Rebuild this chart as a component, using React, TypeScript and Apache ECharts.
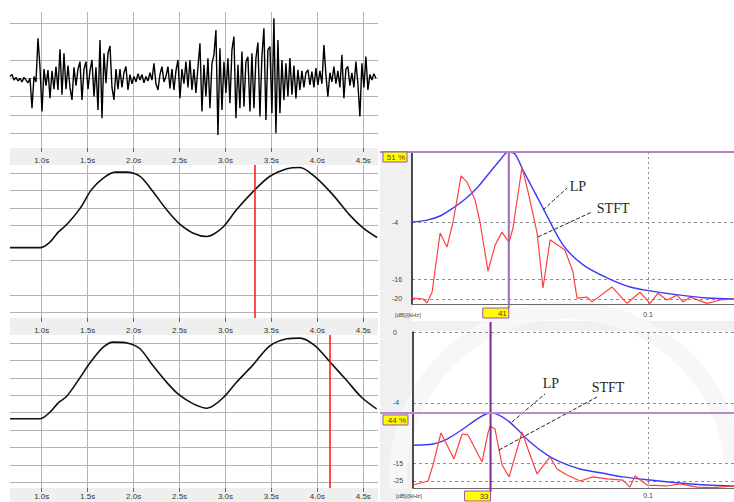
import React, { useEffect, useRef } from 'react';
import * as echarts from 'echarts';

// ---------- time axis (left panels, seconds) ----------
const tMin = 0.655;
const tMax = 4.66;
const timeTicks = [1.0, 1.5, 2.0, 2.5, 3.0, 3.5, 4.0, 4.5];

// ---------- panel 1: raw signal ----------
const noiseT0 = 0.655;
const noiseDt = 0.02176;
const noiseValues = [
  0.1, 0.2, -0.1, 0.05, -0.15, 0.0, -0.2, 0.05, -0.1, -0.25,
  0.0, -1.64, 0.1, -0.2, 2.19, 0.6, -1.82, 0.5, -0.4, 0.45,
  -1.09, 0.4, -0.6, 0.64, -0.64, 1.58, -0.9, 1.37, -0.6, 0.7,
  -0.5, -1.18, 0.6, -0.4, 0.5, 0.91, -1.18, 0.5, 0.91, -0.6,
  0.4, 1.0, -1.0, 0.6, -1.73, 2.09, -2.19, 1.37, -0.27, 1.37,
  1.77, -0.5, -1.18, 0.5, -0.6, 0.5, -0.5, 0.3, 0.64, -0.64,
  0.2, -0.3, 0.1, -0.2, 0.25, -0.1, 0.2, -0.25, 0.1, -0.15,
  0.3, -0.1, 0.82, -0.3, -0.64, 0.2, 0.64, -0.2, 0.1, 0.64,
  -0.55, 0.5, -0.64, 0.4, 1.0, -1.09, 0.5, -0.3, 0.91, -0.5,
  1.0, -0.64, 0.5, -0.8, 0.6, 1.91, -1.82, 0.73, -1.0, 1.09,
  -1.64, 0.8, 1.28, 2.64, -3.1, 1.64, -1.73, 0.9, -0.8, 1.09,
  -1.37, 1.55, 2.28, -2.19, 0.73, -1.64, 1.46, -1.55, 0.9, 1.18,
  -1.82, 1.37, -1.64, 1.1, 1.95, -2.09, 1.2, 2.73, -2.28, 1.55,
  1.73, -1.91, 3.28, -3.0, 2.09, -1.91, 1.0, -1.2, 0.82, -1.0,
  1.1, -0.9, 0.7, -1.1, 0.46, -0.64, 0.4, -0.5, 0.3, 0.46,
  -0.36, 0.36, -0.5, 0.55, -0.36, 0.4, -0.3, 1.82, 0.2, -1.0,
  0.3, -0.2, 0.64, -0.3, 0.4, -0.5, 1.28, -1.09, 0.5, 0.64,
  -0.4, 0.3, -0.5, 0.91, -0.3, -2.09, 0.82, -0.5, 1.18, -0.64,
  0.2, -0.1, 0.25, 0.0,
];
const noiseMin = -3.81;
const noiseMax = 3.62;
const noiseGridLevels = [-3, -2, -1, 0, 1, 3];

// ---------- panel 2: envelope with cursor ----------
const env1T = [0.655, 0.99, 1.09, 1.18, 1.27, 1.42, 1.54, 1.67, 1.80, 1.92, 2.07, 2.21, 2.36, 2.49, 2.65, 2.80, 2.87, 2.98, 3.12, 3.30, 3.48, 3.67, 3.81, 3.97, 4.17, 4.35, 4.50, 4.65];
const env1V = [3.72, 3.72, 4.03, 4.61, 5.03, 5.99, 7.04, 7.72, 8.06, 8.06, 7.81, 6.94, 5.89, 5.13, 4.55, 4.36, 4.49, 4.93, 5.89, 6.94, 7.81, 8.26, 8.33, 7.81, 6.75, 5.60, 4.84, 4.30];
const env1Cursor = 3.32;
const env1GridLevels = [0, 1, 3, 5, 6, 7, 8];

// ---------- panel 3: envelope with cursor ----------
const env2T = [0.655, 0.98, 1.09, 1.18, 1.27, 1.42, 1.53, 1.67, 1.78, 1.94, 2.07, 2.21, 2.36, 2.49, 2.65, 2.80, 2.87, 2.98, 3.12, 3.30, 3.48, 3.67, 3.81, 3.97, 4.14, 4.32, 4.48, 4.645];
const env2V = [3.65, 3.65, 4.03, 4.57, 4.93, 6.04, 6.90, 7.77, 8.06, 8.00, 7.68, 6.71, 5.75, 5.05, 4.51, 4.26, 4.41, 4.89, 5.75, 6.75, 7.83, 8.25, 8.29, 7.87, 6.90, 5.85, 4.89, 4.22];
const env2Cursor = 4.14;
const env2GridLevels = [0, 1, 2, 3, 4, 5, 6, 7, 8];
const envMin = -0.33;
const envMax = 8.47;

// ---------- panel 4: spectrum at cursor 1 (kHz / dB) ----------
const lpAFreq = [0, 0.0064, 0.0119, 0.0174, 0.0228, 0.0275, 0.0331, 0.0375, 0.0405, 0.0435, 0.047, 0.0512, 0.0555, 0.064, 0.0725, 0.0826, 0.0924, 0.1008, 0.1136, 0.125, 0.1364];
const lpADb = [-4.0, -3.6, -2.75, -1.09, 0.9, 3.07, 6.4, 9.0, 10.5, 10.2, 6.8, 2.9, -1.1, -8.8, -12.9, -15.6, -17.5, -18.3, -19.2, -19.8, -20.0];
const stftAFreq = [0, 0.0047, 0.0064, 0.0085, 0.0119, 0.0148, 0.0174, 0.0208, 0.0233, 0.0267, 0.0288, 0.0322, 0.0352, 0.0381, 0.0411, 0.0428, 0.0466, 0.0492, 0.053, 0.0555, 0.0585, 0.0648, 0.0682, 0.0699, 0.0742, 0.0763, 0.0847, 0.0911, 0.0966, 0.1008, 0.1042, 0.108, 0.1123, 0.1148, 0.1178, 0.125, 0.1305, 0.1364];
const stftADb = [-19.8, -20.0, -20.8, -18.6, -6.3, -9.2, -4.0, 5.6, 4.3, 0.6, -4.0, -14.2, -8.8, -6.1, -8.2, -5.2, 7.4, 2.2, -6.3, -17.7, -7.7, -9.8, -14.4, -19.8, -19.6, -20.6, -17.5, -20.9, -18.6, -20.9, -18.8, -20.2, -19.2, -20.6, -19.6, -20.9, -20.2, -20.0];
const specAMin = -21.04;
const specAMax = 10.55;
const specAYTicks = [-20, -16, -4];
const specACursorFreq = 0.041;
const specACursorLevel = 10.55;
const specACursorText = '41';
const specALevelText = '51 %';

// ---------- panel 5: spectrum at cursor 2 (kHz / relative level) ----------
const lpBFreq = [0, 0.0085, 0.0145, 0.0213, 0.0272, 0.0328, 0.0357, 0.04, 0.0443, 0.0498, 0.057, 0.0626, 0.0711, 0.0826, 0.0894, 0.1009, 0.1136, 0.1251, 0.1366];
const lpBLevel = [27.4, 28.2, 31.4, 37.8, 44.2, 48.1, 47.4, 43.6, 37.8, 29.5, 21.2, 16.7, 12.2, 9.0, 7.1, 5.1, 3.2, 1.9, 1.3];
const stftBFreq = [0, 0.0064, 0.0085, 0.0119, 0.0149, 0.0174, 0.0209, 0.0234, 0.0294, 0.0319, 0.0328, 0.0349, 0.0379, 0.0409, 0.0464, 0.0489, 0.0528, 0.0583, 0.0613, 0.0655, 0.0711, 0.0766, 0.0826, 0.0894, 0.0923, 0.0945, 0.0996, 0.1081, 0.1136, 0.1209, 0.1277, 0.1366];
const stftBLevel = [1.9, 4.5, 14.7, 35.3, 26.3, 18.6, 34.6, 34.0, 16.7, 35.3, 39.7, 37.8, 14.7, 7.1, 35.9, 25.0, 9.0, 19.9, 12.2, 8.3, 4.5, 7.1, 5.8, 5.1, 0.6, 7.7, 1.9, 1.3, 2.6, 0.6, 0.2, 1.3];
const specBMin = 0;
const specBMax = 100;
const specBYTicks = [4.5, 16, 54.5, 100];
const specBYLabels = ['-25', '-15', '-4', '0'];
const specBCursorFreq = 0.033;
const specBCursorLevel = 48.1;
const specBCursorText = '33';
const specBLevelText = '44 %';

const freqTicks = [0.1];

// annotations: [label, leader start, leader end, label centre]
const annotA = [
  { text: 'LP', from: [0.0555, -1.5], to: [0.0657, 3.07], at: [0.0703, 3.28] },
  { text: 'STFT', from: [0.0534, -7.1], to: [0.0763, -1.9], at: [0.0852, -1.09] },
];
const annotB = [
  { text: 'LP', from: [0.0421, 42.3], to: [0.0562, 60.3], at: [0.0587, 66.7] },
  { text: 'STFT', from: [0.0366, 24.4], to: [0.0783, 58.3], at: [0.083, 64.7] },
];

const GRID_GRAY = '#b3b3b3';
const DASH = '#8f8f8f';

function timeAxis(gi: number, margin: number) {
  return {
    type: 'value', gridIndex: gi, min: tMin, max: tMax,
    axisLine: { show: false, onZero: false },
    axisTick: { show: true, customValues: timeTicks, length: 4, lineStyle: { color: '#666' } },
    axisLabel: {
      show: true, customValues: timeTicks, margin, fontSize: 8, color: '#333',
      fontFamily: 'Liberation Sans', formatter: (v: number) => v.toFixed(1) + 's',
    },
    splitLine: { show: true, lineStyle: { color: GRID_GRAY, width: 1 } },
  };
}
function levelAxis(gi: number, min: number, max: number, lines: number[]) {
  return {
    type: 'value', gridIndex: gi, min, max,
    axisLine: { show: false, onZero: false },
    axisTick: { show: false, customValues: lines },
    axisLabel: { show: false },
    splitLine: { show: true, lineStyle: { color: GRID_GRAY, width: 1 } },
  };
}
function freqAxis(gi: number, max: number, margin: number) {
  return {
    type: 'value', gridIndex: gi, min: 0, max,
    axisLine: { show: true, onZero: false, lineStyle: { color: '#6a6a6a', width: 1 } },
    axisTick: { show: false, customValues: freqTicks },
    axisLabel: {
      show: true, customValues: freqTicks, margin, fontSize: 7, color: '#444',
      fontFamily: 'Liberation Sans', formatter: (v: number) => String(v),
    },
    splitLine: { show: true, lineStyle: { color: DASH, type: [2, 3], width: 1 } },
  };
}
function dbAxis(gi: number, min: number, max: number, ticks: number[], fmt: (v: number) => string) {
  return {
    type: 'value', gridIndex: gi, min, max,
    axisLine: { show: true, onZero: false, lineStyle: { color: '#111', width: 1.5 } },
    axisTick: { show: false, customValues: ticks },
    axisLabel: {
      show: true, customValues: ticks, margin: 20, align: 'left', fontSize: 7, color: '#444',
      fontFamily: 'Liberation Sans', formatter: fmt,
    },
    splitLine: { show: true, lineStyle: { color: DASH, type: [3, 3], width: 1 } },
  };
}

function annotationSeriesParts(list: typeof annotA) {
  return {
    markLine: {
      silent: true, symbol: ['none', 'none'], animation: false,
      label: { show: false },
      lineStyle: { color: '#222', type: [4, 2], width: 1 },
      data: list.map((a) => [{ coord: a.from }, { coord: a.to }]),
    },
    markPoint: {
      silent: true, symbol: 'rect', symbolSize: 1, animation: false,
      itemStyle: { color: 'rgba(0,0,0,0)' },
      label: {
        show: true, position: 'inside', formatter: (p: any) => p.name,
        fontFamily: 'Liberation Serif', fontSize: 14, color: '#262626',
      },
      data: list.map((a) => ({ name: a.text, coord: a.at })),
    },
  };
}

export default function App() {
  const ref = useRef<HTMLDivElement>(null);
  useEffect(() => {
    if (!ref.current) return;
    const chart = echarts.init(ref.current, undefined, { renderer: 'svg' });

    const option: any = {
      animation: false,
      backgroundColor: '#ffffff',
      grid: [
        { left: 10, top: 12, width: 368, height: 136, containLabel: false, outerBoundsMode: 'none' },
        { left: 10, top: 165, width: 368, height: 153, containLabel: false, outerBoundsMode: 'none' },
        { left: 10, top: 335, width: 368, height: 153, containLabel: false, outerBoundsMode: 'none' },
        { left: 412, top: 152, width: 322, height: 152, containLabel: false, outerBoundsMode: 'none' },
        { left: 413, top: 332, width: 321, height: 156, containLabel: false, outerBoundsMode: 'none' },
      ],
      xAxis: [
        timeAxis(0, 8), timeAxis(1, 8), timeAxis(2, 4),
        freqAxis(3, 0.1364, 7), freqAxis(4, 0.1366, 4),
      ],
      yAxis: [
        levelAxis(0, noiseMin, noiseMax, noiseGridLevels),
        levelAxis(1, envMin, envMax, env1GridLevels),
        levelAxis(2, envMin, envMax, env2GridLevels),
        dbAxis(3, specAMin, specAMax, specAYTicks, (v: number) => String(v)),
        dbAxis(4, specBMin, specBMax, specBYTicks, (v: number) => {
          let best = 0;
          specBYTicks.forEach((t, i) => { if (Math.abs(t - v) < Math.abs(specBYTicks[best] - v)) best = i; });
          return specBYLabels[best];
        }),
      ],
      series: [
        {
          type: 'line', xAxisIndex: 0, yAxisIndex: 0, showSymbol: false, symbol: 'none',
          data: noiseValues.map((v, i) => [noiseT0 + i * noiseDt, v]),
          lineStyle: { color: '#000', width: 1.4 },
        },
        {
          type: 'line', xAxisIndex: 1, yAxisIndex: 1, showSymbol: false, symbol: 'none', smooth: 0.3,
          data: env1T.map((t, i) => [t, env1V[i]]),
          lineStyle: { color: '#111', width: 1.6 },
          markLine: {
            silent: true, symbol: ['none', 'none'], label: { show: false }, animation: false,
            lineStyle: { color: '#ff1010', width: 1.5, type: 'solid' },
            data: [{ xAxis: env1Cursor }],
          },
        },
        {
          type: 'line', xAxisIndex: 2, yAxisIndex: 2, showSymbol: false, symbol: 'none', smooth: 0.3,
          data: env2T.map((t, i) => [t, env2V[i]]),
          lineStyle: { color: '#111', width: 1.6 },
          markLine: {
            silent: true, symbol: ['none', 'none'], label: { show: false }, animation: false,
            lineStyle: { color: '#ff1010', width: 1.5, type: 'solid' },
            data: [{ xAxis: env2Cursor }],
          },
        },
        {
          type: 'line', xAxisIndex: 3, yAxisIndex: 3, showSymbol: false, symbol: 'none', smooth: 0.3,
          data: lpAFreq.map((f, i) => [f, lpADb[i]]),
          lineStyle: { color: '#3c3cf5', width: 1.4 }, z: 3,
        },
        {
          type: 'line', xAxisIndex: 3, yAxisIndex: 3, showSymbol: false, symbol: 'none',
          data: stftAFreq.map((f, i) => [f, stftADb[i]]),
          lineStyle: { color: '#ff4040', width: 1.2 }, z: 4,
          ...annotationSeriesParts(annotA),
        },
        {
          type: 'line', xAxisIndex: 4, yAxisIndex: 4, showSymbol: false, symbol: 'none', smooth: 0.3,
          data: lpBFreq.map((f, i) => [f, lpBLevel[i]]),
          lineStyle: { color: '#3c3cf5', width: 1.4 }, z: 3,
        },
        {
          type: 'line', xAxisIndex: 4, yAxisIndex: 4, showSymbol: false, symbol: 'none',
          data: stftBFreq.map((f, i) => [f, stftBLevel[i]]),
          lineStyle: { color: '#ff4040', width: 1.2 }, z: 4,
          ...annotationSeriesParts(annotB),
        },
      ],
    };
    chart.setOption(option);

    const pA = chart.convertToPixel({ gridIndex: 3 }, [specACursorFreq, specACursorLevel]) as number[];
    const pAb = chart.convertToPixel({ gridIndex: 3 }, [0, specAMin]) as number[];
    const pB = chart.convertToPixel({ gridIndex: 4 }, [specBCursorFreq, specBCursorLevel]) as number[];
    const pBt = chart.convertToPixel({ gridIndex: 4 }, [0, specBMax]) as number[];
    const pBb = chart.convertToPixel({ gridIndex: 4 }, [0, specBMin]) as number[];

    const box = (x: number, y: number, w: number, h: number, text: string, stroke: string) => [
      { type: 'rect', z: 100, shape: { x, y, width: w, height: h }, style: { fill: '#ffff00', stroke, lineWidth: 1 } },
      {
        type: 'text', z: 101, x: x + w - 2, y: y + h / 2 + 0.5,
        style: { text, fill: '#5a3d10', fontSize: 8, fontFamily: 'Liberation Sans', align: 'right', verticalAlign: 'middle' },
      },
    ];

    const graphics: any[] = [
      // faint watermark ring
      {
        type: 'arc', z: -9, silent: true,
        shape: { cx: 566, cy: 478, r: 168, startAngle: Math.PI * 0.98, endAngle: Math.PI * 1.97, clockwise: true },
        style: { stroke: '#f7f7f7', lineWidth: 18, fill: 'none' },
      },
      // gray label bands of left panels
      { type: 'rect', z: -10, shape: { x: 10, y: 148, width: 368, height: 17 }, style: { fill: '#efefef' } },
      { type: 'rect', z: -10, shape: { x: 10, y: 318, width: 368, height: 17 }, style: { fill: '#efefef' } },
      { type: 'rect', z: -10, shape: { x: 10, y: 488, width: 368, height: 14 }, style: { fill: '#efefef' } },
      // gray margins of right panels
      { type: 'rect', z: -10, shape: { x: 380, y: 152, width: 32, height: 350 }, style: { fill: '#f0f0f0' } },
      { type: 'rect', z: -10, shape: { x: 380, y: 321, width: 354, height: 10 }, style: { fill: '#f0f0f0' } },
      // axis unit labels
      { type: 'text', z: 5, x: 395, y: 315, style: { text: '[dB]/[kHz]', fill: '#444', fontSize: 6, fontFamily: 'Liberation Sans', verticalAlign: 'middle' } },
      { type: 'text', z: 5, x: 396, y: 496, style: { text: '[dB]/[kHz]', fill: '#444', fontSize: 6, fontFamily: 'Liberation Sans', verticalAlign: 'middle' } },
      // cursor lines of panel 4
      { type: 'line', z: 50, shape: { x1: pA[0], y1: pA[1], x2: pA[0], y2: pAb[1] + 4 }, style: { stroke: '#a767b9', lineWidth: 2 } },
      { type: 'line', z: 50, shape: { x1: 380, y1: pA[1], x2: 734, y2: pA[1] }, style: { stroke: '#b77fc8', lineWidth: 2 } },
      ...box(383, pA[1], 24, 10, specALevelText, '#9c55b0'),
      ...box(pA[0] - 26, pAb[1] + 4, 26, 10, specACursorText, '#9c55b0'),
      // cursor lines of panel 5
      { type: 'line', z: 50, shape: { x1: pB[0], y1: pBt[1] - 10, x2: pB[0], y2: pBb[1] + 4 }, style: { stroke: '#7e2a94', lineWidth: 2 } },
      { type: 'line', z: 50, shape: { x1: 380, y1: pB[1], x2: 734, y2: pB[1] }, style: { stroke: '#b98acb', lineWidth: 2 } },
      ...box(383, pB[1] + 2, 25, 10, specBLevelText, '#9c55b0'),
      ...box(pB[0] - 26, pBb[1] + 3, 26, 10, specBCursorText, '#9c55b0'),
    ];
    chart.setOption({ graphic: { elements: graphics } });

    return () => chart.dispose();
  }, []);
  return (
    <div
      ref={ref}
      style={{ position: 'absolute', left: 0, top: 0, width: 734, height: 502, background: '#fff' }}
    />
  );
}
